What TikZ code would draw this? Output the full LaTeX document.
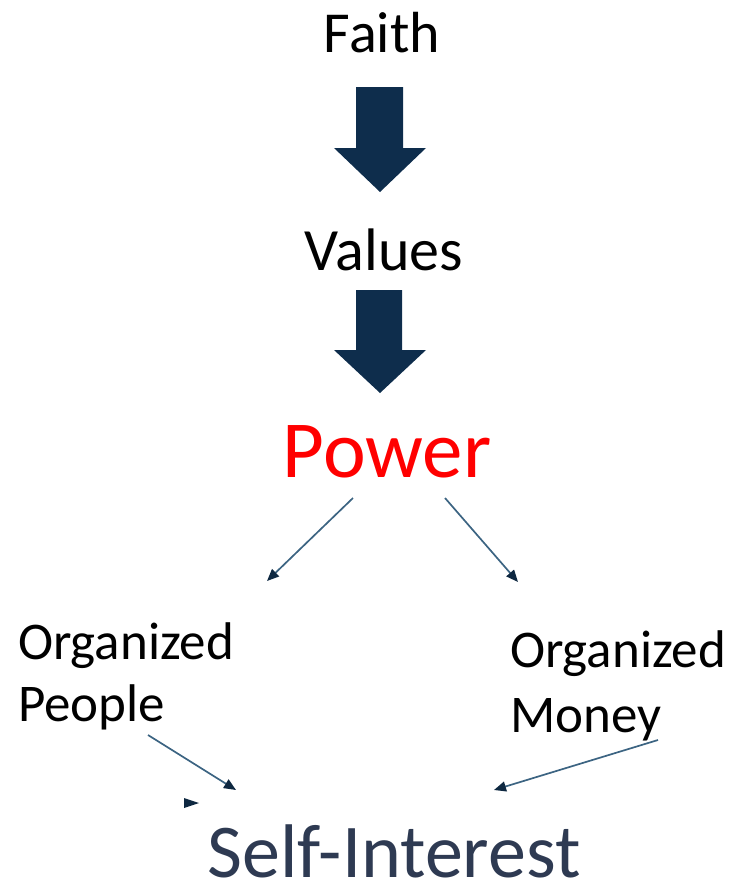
\documentclass[tikz,border=0pt]{standalone}
\usepackage{fontspec}
\setmainfont{Carlito}
\usetikzlibrary{arrows.meta}
\definecolor{navy}{HTML}{0E2D4C}
\definecolor{thinline}{HTML}{3C6482}
\definecolor{headcol}{HTML}{0E2841}
\definecolor{slate}{HTML}{2E3A52}
\definecolor{powerred}{HTML}{FF0000}
\tikzset{
  lbl/.style={inner sep=0pt, outer sep=0pt, text=black},
  blockarrow/.style={fill=navy, draw=none},
  thinarrow/.style={draw=thinline, line width=1.7pt, -{Triangle[length=12pt,width=10pt,fill=headcol,color=headcol]}},
}
\begin{document}
\begin{tikzpicture}[x=1pt,y=-1pt]
\useasboundingbox (0,0) rectangle (736,889);
% texts
\node[lbl, anchor=base, font=\fontsize{58}{60}\selectfont] (faith) at (382,52) {Faith};
\node[lbl, anchor=base, font=\fontsize{60}{62}\selectfont] (values) at (384,270) {Values};
\node[lbl, anchor=base, font=\fontsize{81}{84}\selectfont, text=powerred] (power) at (387,477) {Power};
\node[lbl, anchor=base west, font=\fontsize{53}{55}\selectfont] (org1) at (18,659) {Organized};
\node[lbl, anchor=base west, font=\fontsize{53}{55}\selectfont] (people) at (18,721) {People};
\node[lbl, anchor=base west, font=\fontsize{53}{55}\selectfont] (org2) at (510,667) {Organized};
\node[lbl, anchor=base west, font=\fontsize{53}{55}\selectfont] (money) at (510,732) {Money};
\node[lbl, anchor=base, font=\fontsize{76}{78}\selectfont, text=slate] (self) at (394,877) {Self-Interest};
% block arrows
\fill[blockarrow] (356,87) -- (403,87) -- (403,148) -- (426,148) -- (380,192) -- (334,148) -- (356,148) -- cycle;
\fill[blockarrow] (356,290) -- (402,290) -- (402,350) -- (426,350) -- (380,393) -- (334,350) -- (356,350) -- cycle;
% thin arrows
\coordinate (pl) at (353,498);
\coordinate (pr) at (445,498);
\coordinate (el) at (267,581);
\coordinate (er) at (518,582);
\coordinate (ps) at (148,735);
\coordinate (pe) at (236,790);
\coordinate (ms) at (658,740);
\coordinate (me) at (494,790);
\draw[thinarrow] (pl) -- (el);
\draw[thinarrow] (pr) -- (er);
\draw[thinarrow] (ps) -- (pe);
\draw[thinarrow] (ms) -- (me);
% stray arrowhead
\fill[headcol] (184,798) -- (199,803) -- (184,808) -- cycle;
\end{tikzpicture}
\end{document}
